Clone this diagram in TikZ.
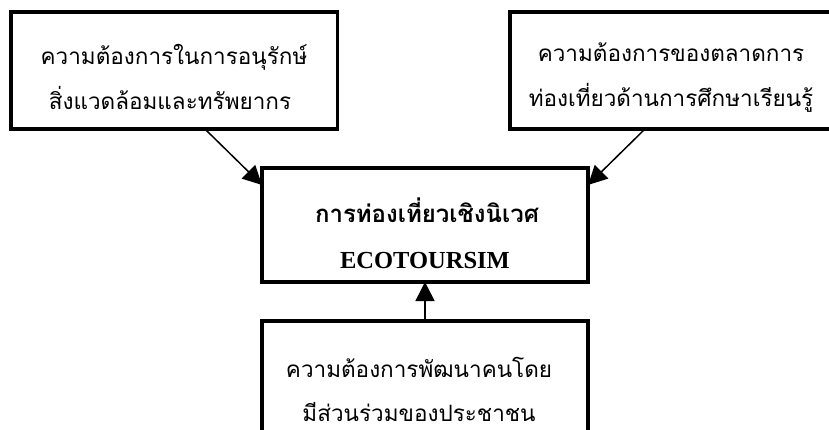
\documentclass[tikz,border=0pt]{standalone}
\usepackage{fontspec}
\usetikzlibrary{arrows.meta,calc}
\setmainfont{Liberation Serif}
\newfontfamily\thaifont[Script=Thai]{Loma}
\begin{document}
\begin{tikzpicture}[x=1pt,y=-1pt,
  boxframe/.style={draw=black,line width=3.6pt,fill=white},
  thaitxt/.style={anchor=base,inner sep=0pt,font=\thaifont\fontsize{22.5}{26}\selectfont},
  thaibold/.style={anchor=base,inner sep=0pt,font=\thaifont\bfseries\fontsize{24}{28}\selectfont},
  engbold/.style={anchor=base,inner sep=0pt,font=\bfseries\fontsize{24.5}{28}\selectfont},
  link/.style={line width=1.5pt,-{Triangle[length=19pt,width=19pt]}}]
\clip (0,0) rectangle (829,430);
\fill[white] (0,0) rectangle (829,430);
% boxes
\draw[boxframe] (11,12) rectangle (337.5,129);
\coordinate (tlsw) at (11,129); \coordinate (tlse) at (337.5,129);
\draw[boxframe] (510,12) rectangle (836,129);
\coordinate (trsw) at (510,129); \coordinate (trse) at (836,129);
\draw[boxframe] (262,168) rectangle (588,282);
\coordinate (cnw) at (262,168); \coordinate (csw) at (262,282);
\coordinate (cne) at (588,168); \coordinate (cse) at (588,282);
\draw[boxframe] (262,321) rectangle (588,445);
\coordinate (bnw) at (262,321); \coordinate (bne) at (588,321);
% texts
\node[thaitxt] (tl1) at (174,65) {ความต้องการในการอนุรักษ์};
\node[thaitxt] (tl2) at (170,110) {สิ่งแวดล้อมและทรัพยากร};
\node[thaitxt] (tr1) at (671,62) {ความต้องการของตลาดการ};
\node[thaitxt] (tr2) at (671,107) {ท่องเที่ยวด้านการศึกษาเรียนรู้};
\node[thaibold] (c1) at (427,223) {การท่องเที่ยวเชิงนิเวศ};
\node[engbold] (c2) at (425,268) {ECOTOURSIM};
\node[thaitxt] (b1) at (419,377) {ความต้องการพัฒนาคนโดย};
\node[thaitxt] (b2) at (419,421) {มีส่วนร่วมของประชาชน};
% connectors
\draw[link] ($(tlsw)!0.594!(tlse)$) -- ($(cnw)!0.149!(csw)$);
\draw[link] ($(trsw)!0.414!(trse)$) -- ($(cne)!0.149!(cse)$);
\draw[link] ($(bnw)!0.5!(bne)$) -- ($(csw)!0.5!(cse)$);
\end{tikzpicture}
\end{document}
